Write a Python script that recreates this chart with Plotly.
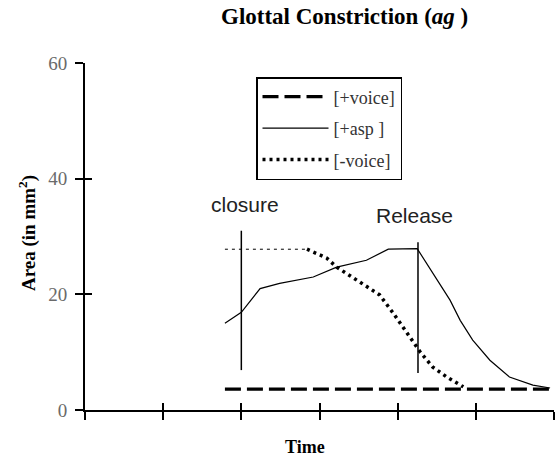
import plotly.graph_objects as go

# ---- data ----
voice_t = [1.79, 6.0]
voice_area = [3.6, 3.6]

asp_t = [1.79, 2.0, 2.24, 2.49, 2.92, 3.22, 3.6, 3.88, 4.25, 4.32, 4.5, 4.67, 4.8, 4.96, 5.18, 5.43, 5.73, 5.95]
asp_area = [15.0, 16.9, 21.0, 21.9, 23.0, 24.7, 25.9, 27.8, 27.9, 26.4, 22.4, 19.0, 15.5, 12.1, 8.6, 5.7, 4.3, 3.8]

nvoice_flat_t = [1.79, 2.84]
nvoice_flat_area = [27.8, 27.8]
nvoice_t = [2.84, 3.09, 3.22, 3.52, 3.77, 3.94, 4.16, 4.29, 4.45, 4.63, 4.84]
nvoice_area = [27.8, 26.3, 24.7, 22.1, 19.9, 16.8, 12.6, 10.0, 7.4, 5.7, 4.0]

closure_t = [2.0, 2.0]
closure_area = [31.0, 6.9]
release_t = [4.26, 4.26]
release_area = [29.0, 6.4]

x_ticks = [0, 1, 2, 3, 4, 5, 6]
y_ticks = [0, 20, 40, 60]

serif = "Liberation Serif, Times New Roman, serif"
sans = "Liberation Sans, Arial, sans-serif"

fig = go.Figure()

fig.add_trace(go.Scatter(x=voice_t, y=voice_area, mode="lines", name="[+voice]",
                         line=dict(color="black", width=3.2, dash="16px,6px"),
                         legendgroup="a"))
fig.add_trace(go.Scatter(x=asp_t, y=asp_area, mode="lines", name="[+asp ]",
                         line=dict(color="black", width=1.2),
                         legendgroup="b"))
fig.add_trace(go.Scatter(x=nvoice_t, y=nvoice_area, mode="lines", name="[-voice]",
                         line=dict(color="black", width=3.5, dash="3px,4px"),
                         legendgroup="c"))
fig.add_trace(go.Scatter(x=nvoice_flat_t, y=nvoice_flat_area, mode="lines", showlegend=False,
                         line=dict(color="black", width=1, dash="3px,4px")))
fig.add_trace(go.Scatter(x=closure_t, y=closure_area, mode="lines", showlegend=False,
                         line=dict(color="black", width=1.5)))
fig.add_trace(go.Scatter(x=release_t, y=release_area, mode="lines", showlegend=False,
                         line=dict(color="black", width=1.5)))
# invisible trace for the overlay axes (inner tick halves)
fig.add_trace(go.Scatter(x=[0], y=[0], xaxis="x2", yaxis="y2", mode="markers",
                         marker=dict(opacity=0), showlegend=False, hoverinfo="skip"))

fig.add_annotation(x=2.05, y=35.6, text="closure", showarrow=False,
                   font=dict(family=sans, size=21, color="#222"))
fig.add_annotation(x=4.22, y=33.7, text="Release", showarrow=False,
                   font=dict(family=sans, size=21, color="#222"))

fig.add_annotation(xref="paper", yref="paper", x=(344 - 85) / 469, y=(410 - 16) / 347,
                   xanchor="center", yanchor="middle",
                   text="<b>Glottal Constriction (<i>ag</i> )</b>", showarrow=False,
                   font=dict(family=serif, size=23, color="black"))
fig.add_annotation(xref="paper", yref="paper", x=(305 - 85) / 469, y=(410 - 447) / 347,
                   xanchor="center", yanchor="middle",
                   text="<b>Time</b>", showarrow=False,
                   font=dict(family=serif, size=18, color="black"))
fig.add_annotation(xref="paper", yref="paper", x=(27 - 85) / 469, y=(410 - 233) / 347,
                   xanchor="center", yanchor="middle",
                   text="<b>Area (in mm<sup>2</sup>)</b>", showarrow=False, textangle=-90,
                   font=dict(family=serif, size=19, color="black"))

axis_common = dict(showgrid=False, zeroline=False, showline=True, linecolor="black",
                   linewidth=2, ticks="outside", tickcolor="black", tickwidth=2, ticklen=8)

fig.update_layout(
    width=559, height=459,
    margin=dict(l=85, r=5, t=63, b=49),
    paper_bgcolor="white", plot_bgcolor="white",
    xaxis=dict(range=[0, 6], tickvals=x_ticks, showticklabels=False, **axis_common),
    yaxis=dict(range=[0, 60], tickvals=y_ticks, ticklabelstandoff=4,
               tickfont=dict(family=serif, size=19, color="#6a6a6a"), **axis_common),
    xaxis2=dict(range=[0, 6], overlaying="x", anchor="y2", tickvals=x_ticks, showticklabels=False,
                showgrid=False, zeroline=False, showline=False, ticks="inside",
                tickcolor="black", tickwidth=2, ticklen=7),
    yaxis2=dict(range=[0, 60], overlaying="y", anchor="x2", tickvals=y_ticks, showticklabels=False,
                showgrid=False, zeroline=False, showline=False, ticks="inside",
                tickcolor="black", tickwidth=2, ticklen=7),
    showlegend=True,
    legend=dict(x=(256 - 85) / 469, y=(410 - 77) / 347, xanchor="left", yanchor="top",
                bordercolor="black", borderwidth=1.5, bgcolor="white",
                font=dict(family=serif, size=18, color="#333"),
                traceorder="grouped", tracegroupgap=5, itemwidth=66),
)

fig.write_html("out.html")
